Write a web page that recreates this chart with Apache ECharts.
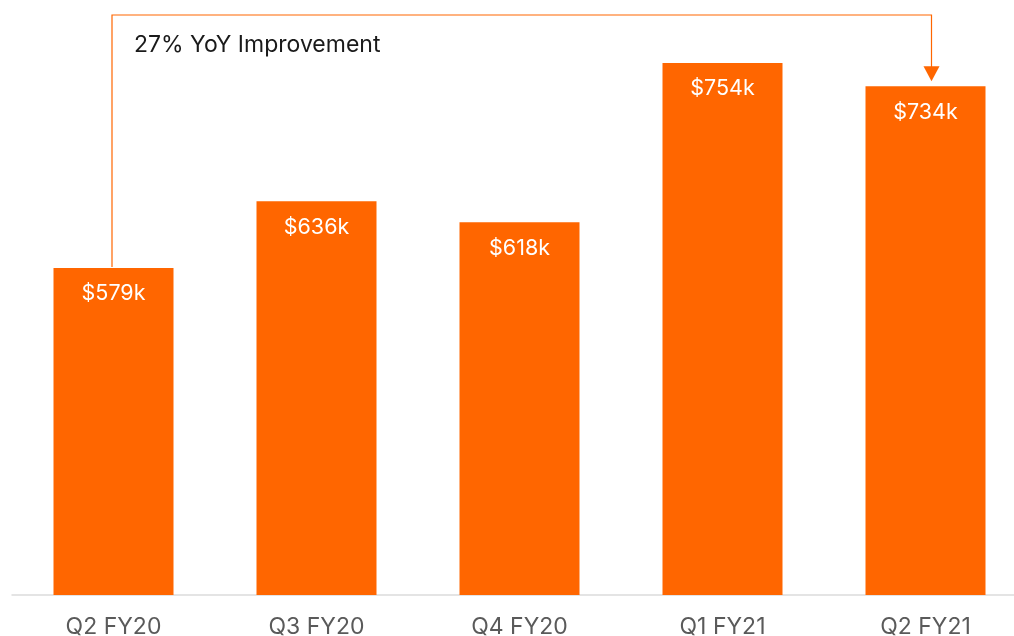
<!DOCTYPE html>
<html>
<head>
<meta charset="utf-8">
<script src="https://cdn.jsdelivr.net/npm/echarts@6/dist/echarts.min.js"></script>
<style>
  html, body { margin: 0; padding: 0; background: #fff; }
  #chart { width: 1014px; height: 636px; }
</style>
</head>
<body>
<div id="chart"></div>
<script>
const quarters = ['Q2 FY20', 'Q3 FY20', 'Q4 FY20', 'Q1 FY21', 'Q2 FY21']
const revenue = [579, 636, 618, 754, 734]
const note = '27% YoY Improvement'

const orange = '#ff6600'
const chart = echarts.init(document.getElementById('chart'))

chart.setOption({
  animation: false,
  grid: { left: 12, right: -13, top: 9, bottom: 41, outerBoundsMode: 'none', containLabel: false },
  xAxis: {
    type: 'category',
    data: quarters,
    axisLine: { lineStyle: { color: '#dcdcdc', width: 1.5 } },
    axisTick: { show: false },
    axisLabel: { color: '#5a5a5a', fontSize: 23, fontFamily: 'Inter', margin: 21 }
  },
  yAxis: {
    type: 'value', min: 300, max: 800,
    show: false, splitLine: { show: false }
  },
  series: [{
    type: 'bar',
    data: revenue,
    barWidth: 120,
    itemStyle: { color: orange },
    label: {
      show: true, position: 'insideTop', distance: 15,
      color: '#fff', fontSize: 21.5, fontFamily: 'Inter',
      formatter: p => '$' + p.value + 'k'
    }
  }]
})

// 年同比箭头：从第一根柱子顶部引到最后一根
const first = chart.convertToPixel({ gridIndex: 0 }, [0, revenue[0]])
const last = chart.convertToPixel({ gridIndex: 0 }, [quarters.length - 1, revenue[revenue.length - 1]])
const topY = 15, ax = last[0] + 6, tipY = last[1] - 5

chart.setOption({
  graphic: [
    {
      type: 'polyline',
      shape: { points: [[first[0] - 1.5, first[1] - 1], [first[0] - 1.5, topY], [ax, topY], [ax, tipY - 14]] },
      style: { stroke: orange, lineWidth: 1.2, fill: null }
    },
    {
      type: 'polygon',
      shape: { points: [[ax - 8, tipY - 15], [ax + 8, tipY - 15], [ax, tipY]] },
      style: { fill: orange }
    },
    {
      type: 'text', x: 134, y: 45,
      style: { text: note, fontSize: 23, fontFamily: 'Inter', fill: '#1a1a1a', verticalAlign: 'middle' }
    }
  ]
})
</script>
</body>
</html>
